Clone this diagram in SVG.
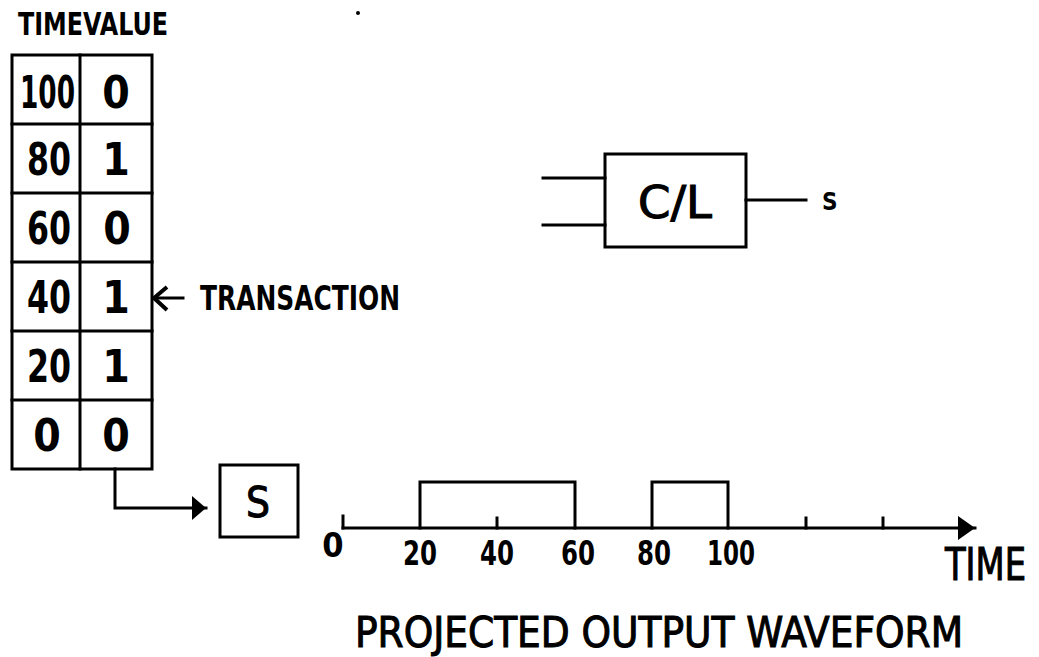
<svg xmlns="http://www.w3.org/2000/svg" width="1039" height="657" viewBox="0 0 1039 657">
<defs>
<style>
.t{font-family:"Liberation Sans Narrow","DejaVu Sans Condensed","Liberation Sans",sans-serif;font-weight:bold;fill:#000}
.n{font-weight:normal;stroke:#000;stroke-width:1}
.ln{stroke:#000;stroke-width:3;fill:none;stroke-linecap:square}
.c{text-anchor:middle}
</style>
<marker id="fa" viewBox="0 0 14 24" refX="14" refY="12" markerWidth="14" markerHeight="24" markerUnits="userSpaceOnUse" orient="auto">
<path d="M0,0 L14,12 L0,24 Z" fill="#000"/>
</marker>
<marker id="fa2" viewBox="0 0 17 24" refX="17" refY="12" markerWidth="17" markerHeight="24" markerUnits="userSpaceOnUse" orient="auto">
<path d="M0,0 L17,12 L0,24 Z" fill="#000"/>
</marker>
</defs>
<rect width="1039" height="657" fill="#fff"/>
<circle cx="358" cy="13" r="2" fill="#000"/>

<g id="table">
<text class="t" x="18" y="35" font-size="32" textLength="150" lengthAdjust="spacingAndGlyphs">TIMEVALUE</text>
<rect class="ln" x="12" y="55" width="140" height="414"/>
<line class="ln" x1="80" y1="55" x2="80" y2="469"/>
<line class="ln" x1="12" y1="124" x2="152" y2="124"/>
<line class="ln" x1="12" y1="193" x2="152" y2="193"/>
<line class="ln" x1="12" y1="262" x2="152" y2="262"/>
<line class="ln" x1="12" y1="331" x2="152" y2="331"/>
<line class="ln" x1="12" y1="400" x2="152" y2="400"/>
<g font-size="44">
<text class="t c" x="47.5" y="108" textLength="55" lengthAdjust="spacingAndGlyphs">100</text>
<text class="t c" x="116" y="108">0</text>
<text class="t c" x="49" y="175" textLength="44" lengthAdjust="spacingAndGlyphs">80</text>
<text class="t c" x="116" y="175">1</text>
<text class="t c" x="49" y="244" textLength="44" lengthAdjust="spacingAndGlyphs">60</text>
<text class="t c" x="117" y="244">0</text>
<text class="t c" x="49" y="313" textLength="44" lengthAdjust="spacingAndGlyphs">40</text>
<text class="t c" x="116" y="313">1</text>
<text class="t c" x="49" y="382" textLength="44" lengthAdjust="spacingAndGlyphs">20</text>
<text class="t c" x="116" y="382">1</text>
<text class="t c" x="47" y="451">0</text>
<text class="t c" x="116" y="451">0</text>
</g>
</g>

<g id="transaction">
<text class="t" x="200" y="310" font-size="34" textLength="200" lengthAdjust="spacingAndGlyphs">TRANSACTION</text>
</g>

<g id="s-box">
<rect class="ln" x="220" y="465" width="78" height="72"/>
<text class="t c n" x="258" y="517" font-size="42">S</text>
</g>

<g id="cl-box">
<rect class="ln" x="605" y="154" width="141" height="93"/>
<text class="t c n" x="675" y="218" font-size="44" textLength="74" lengthAdjust="spacingAndGlyphs">C/L</text>
<line class="ln" x1="543" y1="178" x2="605" y2="178"/>
<line class="ln" x1="543" y1="225" x2="605" y2="225"/>
<line class="ln" x1="746" y1="200" x2="806" y2="200"/>
<text class="t" x="822" y="210" font-size="24">S</text>
</g>

<g id="waveform">
<line class="ln" x1="343" y1="528" x2="975" y2="528" marker-end="url(#fa2)"/>
<line class="ln" x1="343" y1="516" x2="343" y2="528"/>
<line class="ln" x1="497" y1="518" x2="497" y2="528"/>
<line class="ln" x1="806" y1="518" x2="806" y2="528"/>
<line class="ln" x1="883" y1="518" x2="883" y2="528"/>
<polyline class="ln" points="420,528 420,482 575,482 575,528"/>
<polyline class="ln" points="652,528 652,482 728,482 728,528"/>
<g font-size="34">
<text class="t c" x="333" y="557">0</text>
<text class="t c" x="420" y="565" textLength="34" lengthAdjust="spacingAndGlyphs">20</text>
<text class="t c" x="497" y="565" textLength="34" lengthAdjust="spacingAndGlyphs">40</text>
<text class="t c" x="578" y="565" textLength="34" lengthAdjust="spacingAndGlyphs">60</text>
<text class="t c" x="654" y="565" textLength="34" lengthAdjust="spacingAndGlyphs">80</text>
<text class="t c" x="731" y="565" textLength="48" lengthAdjust="spacingAndGlyphs">100</text>
</g>
<text class="t n" x="945" y="580" font-size="44" textLength="81" lengthAdjust="spacingAndGlyphs">TIME</text>
<text class="t n" x="355" y="647" font-size="42" textLength="608" lengthAdjust="spacingAndGlyphs">PROJECTED OUTPUT WAVEFORM</text>
</g>

<g id="connectors">
<polyline class="ln" points="115,469 115,508 206,508" marker-end="url(#fa)"/>
<line class="ln" x1="156" y1="298" x2="183" y2="298"/>
<polyline points="167,287 154,298 167,310" stroke="#000" stroke-width="4" fill="none"/>
</g>
</svg>
